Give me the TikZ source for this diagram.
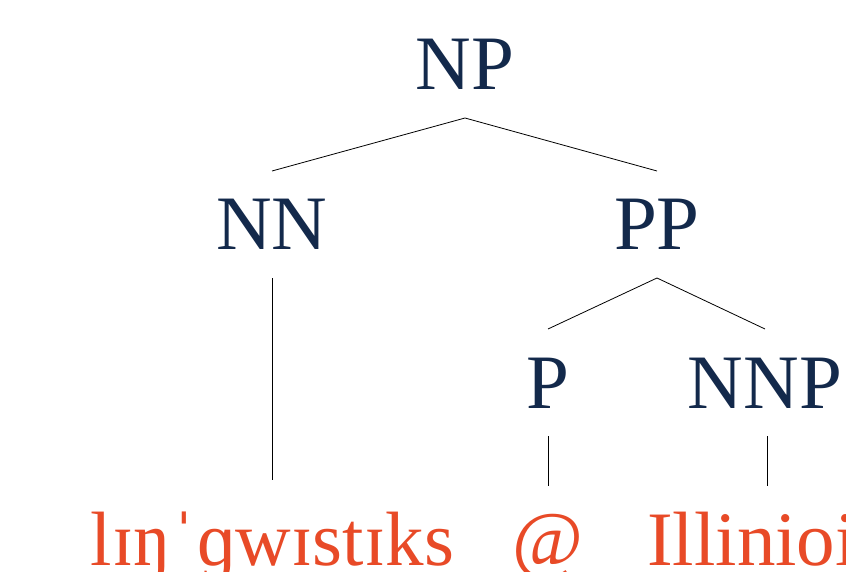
\documentclass[tikz,border=0pt]{standalone}
\usepackage{fontspec}
\setmainfont{Liberation Serif}
\definecolor{ilblue}{HTML}{13294B}
\definecolor{ilorange}{HTML}{E84A27}
\tikzset{
  tag/.style={font=\fontsize{77}{80}\selectfont, text=ilblue, anchor=base,
    text height=51pt, text depth=0pt, inner sep=0pt, outer ysep=28pt},
  word/.style={tag, text=ilorange},
  branch/.style={draw=black, line width=0.8pt}
}
\begin{document}
\begin{tikzpicture}[x=1pt,y=-1pt]
\useasboundingbox (0,0) rectangle (846,572);
\node[tag] (NP) at (465,90) {NP};
\node[tag] (NN) at (272,250) {NN};
\node[tag] (PP) at (657,250) {PP};
\node[tag] (P) at (548,408) {P};
\node[tag] (NNP) at (765,408) {NNP};
\node[word] (W1) at (272.5,565) {lɪŋˈɡwɪstɪks};
\node[word] (W2) at (548,565) {@};
\node[word] (W3) at (767,565) {Illiniois};
\draw[branch] (NN.north) -- (NP.south) -- (PP.north);
\draw[branch] (P.north) -- (PP.south) -- (NNP.north);
\draw[branch, shorten >=6pt] (NN.south) -- (NN.south |- W1.north);
\draw[branch] (P.south) -- (P.south |- W2.north);
\draw[branch] (NNP.south -| W3.north) -- (W3.north);
\end{tikzpicture}
\end{document}
